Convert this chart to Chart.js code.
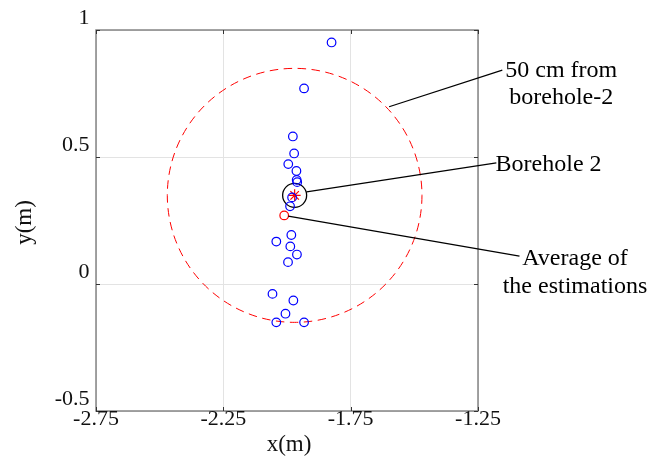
<!DOCTYPE html>
<html>
<head>
<meta charset="utf-8">
<script src="https://cdn.jsdelivr.net/npm/chart.js@4/dist/chart.umd.min.js"></script>
<style>
html,body{margin:0;padding:0;background:#fff;}
canvas{display:block;}
</style>
</head>
<body>
<canvas id="c" width="652" height="461"></canvas>
<script>
// ---- data ----
const estX = [-1.825,-1.933,-1.977,-1.972,-1.995,-1.963,-1.962,-1.960,-1.980,-1.988,-1.983,-2.042,-1.987,-1.961,-1.996,-2.057,-1.975,-2.006,-2.042,-1.933];
const estY = [0.951,0.770,0.581,0.514,0.472,0.445,0.410,0.401,0.341,0.306,0.193,0.167,0.148,0.116,0.086,-0.039,-0.065,-0.117,-0.151,-0.151];
const avgX = [-2.011];
const avgY = [0.270];
const boreX = [-1.970];
const boreY = [0.349];
const ringRadius = [0.5];          // 50 cm circle (m)
const xTickVals = [-2.75,-2.25,-1.75,-1.25];
const xTickLabels = ['-2.75','-2.25','-1.75','-1.25'];
const yTickVals = [-0.5,0,0.5,1];
const yTickLabels = ['-0.5','0','0.5','1'];
const xTitle = 'x(m)';
const yTitle = 'y(m)';
const noteTexts = [['50 cm from','borehole-2'],['Borehole 2'],['Average of','the estimations']];

// ---- layout of annotations (data coordinates) ----
const noteLayout = [
  {from:[-1.599,0.698], to:[-1.1545,0.842], tx:-0.923, ty:[0.816,0.707], align:'center'},
  {from:[-1.923,0.363], to:[-1.178,0.477], tx:-1.181, ty:[0.446], align:'left'},
  {from:[-1.995,0.267], to:[-1.087,0.110], tx:-0.869, ty:[0.074,-0.037], align:'center'}
];

const toPts = (xs, ys) => xs.map((x,i)=>({x:x, y:ys[i]}));
const SERIF = '"Liberation Serif","Times New Roman",serif';

const overlay = {
  id:'overlay',
  beforeDatasetsDraw(chart){
    const {ctx, scales:{x,y}} = chart;
    ctx.save();
    const cx = x.getPixelForValue(boreX[0]), cy = y.getPixelForValue(boreY[0]);
    const rx = Math.abs(x.getPixelForValue(boreX[0]+ringRadius[0]) - cx);
    const ry = Math.abs(y.getPixelForValue(boreY[0]+ringRadius[0]) - cy);
    ctx.strokeStyle = '#ff0000';
    ctx.lineWidth = 1;
    ctx.setLineDash([8.5,5.5]);
    ctx.beginPath();
    ctx.ellipse(cx, cy, rx, ry, 0, 0, Math.PI*2);
    ctx.stroke();
    ctx.restore();
  },
  afterDraw(chart){
    const {ctx, chartArea:a, scales:{x,y}} = chart;
    ctx.save();
    ctx.strokeStyle = '#858585';
    ctx.lineWidth = 1.5;
    ctx.strokeRect(a.left, a.top, a.right-a.left, a.bottom-a.top);
    ctx.strokeStyle = '#333';
    ctx.lineWidth = 1;
    ctx.beginPath();
    xTickVals.forEach(v=>{
      const px = Math.round(x.getPixelForValue(v))+0.5;
      ctx.moveTo(px, a.bottom); ctx.lineTo(px, a.bottom-4);
      ctx.moveTo(px, a.top); ctx.lineTo(px, a.top+4);
    });
    yTickVals.forEach(v=>{
      const py = Math.round(y.getPixelForValue(v))+0.5;
      ctx.moveTo(a.left, py); ctx.lineTo(a.left+4, py);
      ctx.moveTo(a.right, py); ctx.lineTo(a.right-4, py);
    });
    ctx.stroke();
    ctx.fillStyle = '#111';
    ctx.font = '22px ' + SERIF;
    ctx.textAlign = 'center';
    ctx.textBaseline = 'alphabetic';
    xTickVals.forEach((v,i)=>{
      ctx.fillText(xTickLabels[i], x.getPixelForValue(v), a.bottom + 14);
    });
    ctx.textAlign = 'right';
    yTickVals.forEach((v,i)=>{
      ctx.fillText(yTickLabels[i], a.left - 6.5, y.getPixelForValue(v) - 6);
    });
    ctx.font = '23px ' + SERIF;
    ctx.textAlign = 'center';
    ctx.textBaseline = 'middle';
    ctx.fillText(xTitle, (a.left+a.right)/2 + 2, a.bottom + 34);
    ctx.save();
    ctx.translate(25, (a.top+a.bottom)/2 + 2);
    ctx.rotate(-Math.PI/2);
    ctx.fillText(yTitle, 0, 0);
    ctx.restore();
    ctx.strokeStyle = '#000';
    ctx.fillStyle = '#000';
    ctx.lineWidth = 1.2;
    ctx.font = '24px ' + SERIF;
    ctx.textBaseline = 'alphabetic';
    noteLayout.forEach((n,i)=>{
      ctx.beginPath();
      ctx.moveTo(x.getPixelForValue(n.from[0]), y.getPixelForValue(n.from[1]));
      ctx.lineTo(x.getPixelForValue(n.to[0]), y.getPixelForValue(n.to[1]));
      ctx.stroke();
      ctx.textAlign = n.align;
      noteTexts[i].forEach((t,j)=>{
        ctx.fillText(t, x.getPixelForValue(n.tx), y.getPixelForValue(n.ty[j]));
      });
    });
    ctx.restore();
  }
};

new Chart(document.getElementById('c'), {
  type:'scatter',
  data:{
    datasets:[
      {label:'Estimations', data:toPts(estX, estY), pointStyle:'circle', pointRadius:4.3,
       borderColor:'#0000ff', backgroundColor:'rgba(0,0,0,0)', borderWidth:1.2},
      {label:'Borehole ring', data:toPts(boreX, boreY), pointStyle:'circle', pointRadius:12,
       borderColor:'#000000', backgroundColor:'rgba(0,0,0,0)', borderWidth:1.3},
      {label:'Borehole 2', data:toPts(boreX, boreY), pointStyle:'star', pointRadius:6,
       borderColor:'#ff0000', backgroundColor:'rgba(0,0,0,0)', borderWidth:1.2},
      {label:'Average', data:toPts(avgX, avgY), pointStyle:'circle', pointRadius:4.3,
       borderColor:'#ff0000', backgroundColor:'rgba(0,0,0,0)', borderWidth:1.2}
    ]
  },
  options:{
    responsive:false,
    devicePixelRatio:1,
    animation:false,
    layout:{padding:{left:96, right:174, top:30, bottom:50}},
    plugins:{legend:{display:false}, tooltip:{enabled:false}},
    scales:{
      x:{type:'linear', min:-2.75, max:-1.25,
         ticks:{display:false, stepSize:0.5},
         grid:{color:'#e3e3e3', drawTicks:false, lineWidth:1},
         border:{display:false},
         afterFit(s){ s.height = 0; }},
      y:{type:'linear', min:-0.5, max:1,
         ticks:{display:false, stepSize:0.5},
         grid:{color:'#e3e3e3', drawTicks:false, lineWidth:1},
         border:{display:false},
         afterFit(s){ s.width = 0; }}
    }
  },
  plugins:[overlay]
});
</script>
</body>
</html>
